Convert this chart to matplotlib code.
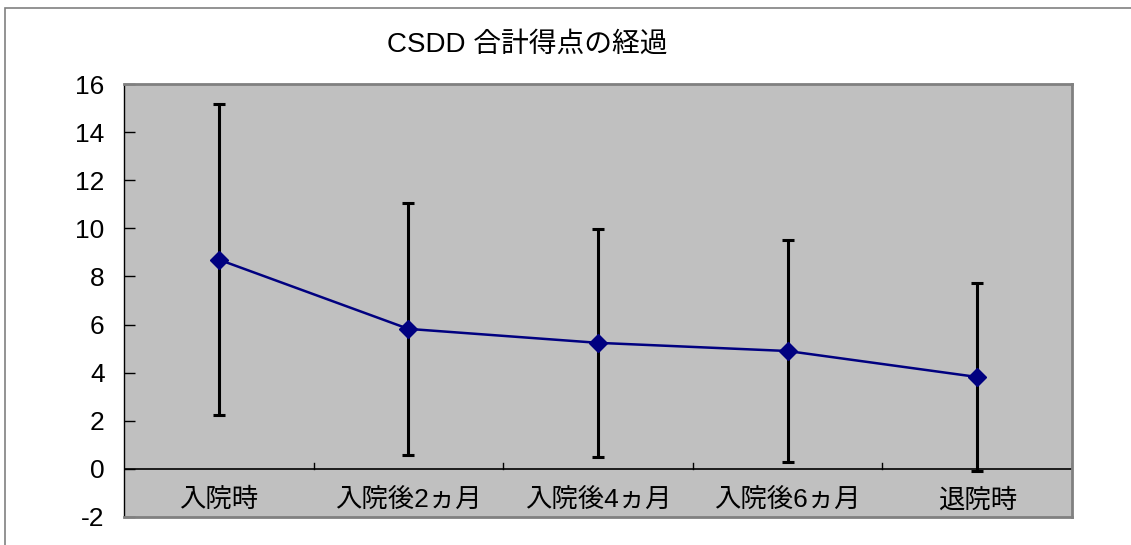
import matplotlib
matplotlib.use("Agg")
import matplotlib.pyplot as plt
from matplotlib.patches import Rectangle
import numpy as np

plt.rcParams['font.family'] = ['Liberation Sans', 'Noto Sans CJK JP', 'DejaVu Sans']

categories = ['入院時', '入院後2ヵ月', '入院後4ヵ月', '入院後6ヵ月', '退院時']
means = [8.7, 5.82, 5.24, 4.9, 3.82]
sds = [6.45, 5.24, 4.74, 4.63, 3.9]
yticks = [-2, 0, 2, 4, 6, 8, 10, 12, 14, 16]

fig = plt.figure(figsize=(11.31, 5.45), dpi=100)
ax = fig.add_axes([124/1131, 28/545, 948/1131, 433/545])
ax.set_facecolor('#C0C0C0')

x = np.arange(len(categories))
ax.errorbar(x, means, yerr=sds, fmt='none', ecolor='black', elinewidth=2.2,
            capsize=4.5, capthick=2.2, zorder=2)
ax.plot(x, means, color='#000080', lw=1.8, marker='D', markersize=9,
        markerfacecolor='#000080', markeredgecolor='#000080', zorder=3)

ax.set_xlim(-0.5, len(categories) - 0.5)
ax.set_ylim(-2, 16)
ax.set_yticks(yticks)
ax.set_yticklabels([str(v) for v in yticks], fontsize=19)
ax.tick_params(axis='y', direction='in', length=8, width=1, pad=14)

# zero line with category boundary ticks
ax.axhline(0, color='black', lw=1.2, zorder=1)
ax.set_xticks([])
for b in np.arange(0.5, len(categories), 1.0):
    ax.plot([b, b], [0, 0.25], color='black', lw=1, zorder=1)

for i, c in enumerate(categories):
    ax.text(i, -1.3, c, ha='center', va='center', fontsize=19)

for s in ['top', 'right', 'bottom']:
    ax.spines[s].set_color('#808080')
    ax.spines[s].set_linewidth(2)
ax.spines['left'].set_color('black')
ax.spines['left'].set_linewidth(1)

fig.text(527/1131, 1 - 45/545, 'CSDD 合計得点の経過', ha='center', va='center', fontsize=20)

fig.patches.append(Rectangle((4.5/1131, -0.05), 1.1, 1 - 7.5/545 + 0.05,
                             transform=fig.transFigure, fill=False,
                             edgecolor='#808080', lw=1.2))

fig.savefig('out.png', dpi=100)
